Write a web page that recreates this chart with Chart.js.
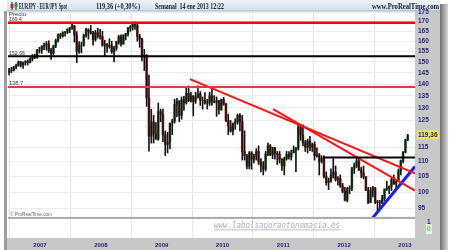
<!DOCTYPE html>
<html><head><meta charset="utf-8">
<script src="https://cdn.jsdelivr.net/npm/chart.js@4.4.1/dist/chart.umd.min.js"></script>
<style>html,body{margin:0;padding:0;background:#fff;overflow:hidden}canvas{display:block}</style>
</head><body>
<canvas id="c" width="450" height="250"></canvas>
<script>
// ---- data (EUR/JPY, two-week candles) ----
const firstBarDate = '2006-06-26';
const barStepDays = 14;
const firstOpen = 145.2;
const highs = [147.0,147.5,148.0,149.0,150.4,150.3,150.0,150.6,151.0,152.0,
153.5,153.7,156.0,157.0,157.8,159.0,159.8,160.2,156.5,158.0,
161.0,163.7,164.0,164.8,165.0,166.4,167.0,168.9,168.0,164.8,
159.8,159.5,163.5,166.5,166.3,168.0,165.0,165.5,166.5,166.0,
165.0,160.5,158.8,161.2,160.0,157.5,160.0,163.0,163.2,163.3,
164.0,167.0,168.0,169.0,169.96,169.0,163.5,161.5,156.0,153.5,
144.0,129.5,127.0,124.2,132.0,129.5,129.5,121.0,120.5,124.0,
125.5,133.5,133.9,133.0,134.5,134.8,138.3,139.2,136.5,135.0,
136.5,139.2,136.8,134.5,136.3,133.5,136.5,139.0,135.0,134.5,
133.0,133.6,134.4,132.0,127.5,125.0,124.0,125.7,127.5,127.7,
127.0,121.0,112.5,113.5,113.5,112.6,114.5,115.5,111.0,110.0,
113.5,116.5,116.0,115.0,115.0,113.5,113.5,111.0,111.5,113.5,
113.5,114.0,115.5,115.0,123.3,123.0,123.3,117.5,118.0,119.0,
116.5,117.0,114.8,112.8,112.0,112.0,106.5,104.5,107.5,111.6,
108.5,105.0,105.5,102.8,101.5,101.5,102.0,108.0,109.5,111.4,
111.0,108.0,108.5,105.0,101.5,101.5,101.8,101.5,97.5,97.5,
99.0,101.0,103.5,102.0,104.5,105.5,103.5,107.5,110.5,113.5,
118.0,119.7];
const lows = [144.0,145.0,145.8,146.8,148.0,147.6,147.0,148.5,148.6,149.5,
150.5,151.5,151.8,154.2,154.0,155.8,155.6,154.5,151.2,153.5,
156.8,159.5,161.3,162.0,162.5,163.8,164.3,166.0,159.5,149.6,
154.0,154.3,157.5,162.0,161.0,163.5,158.0,160.0,161.5,161.0,
157.5,152.8,154.5,156.5,154.0,150.0,155.5,158.5,157.5,158.5,
160.6,162.5,165.0,165.6,166.0,160.0,157.0,150.5,146.0,130.6,
113.6,116.5,116.5,117.8,117.5,124.5,117.0,112.1,113.0,114.5,
119.6,124.0,126.5,124.5,125.5,129.0,131.5,132.5,132.3,126.8,
131.8,134.0,131.0,129.5,131.5,129.5,131.0,131.0,132.0,126.6,
127.5,129.0,131.0,124.5,119.6,120.5,119.5,121.6,123.5,121.0,
110.5,110.5,107.5,107.5,107.4,109.5,110.5,109.0,106.5,105.5,
106.8,112.0,112.0,111.0,110.8,109.0,109.5,107.0,105.5,110.5,
110.8,110.5,113.0,106.6,114.0,117.5,115.5,113.5,113.0,113.8,
113.5,110.5,111.5,105.5,109.5,104.5,102.2,100.8,103.2,104.5,
103.5,102.2,101.5,99.8,97.3,97.0,99.5,100.5,106.0,108.0,
107.0,104.6,104.3,100.5,96.5,96.8,98.5,96.5,94.1,94.8,
96.5,97.3,100.5,99.5,100.5,102.5,100.6,103.5,105.5,109.5,
113.0,117.4];
const closes = [146.0,146.3,147.6,148.2,150.0,148.5,149.6,150.2,149.7,151.4,
152.6,152.0,155.6,155.5,157.4,158.1,158.6,155.3,154.0,157.6,
160.4,163.3,162.5,164.3,164.4,165.8,166.8,167.8,163.0,155.0,
158.0,158.0,162.9,165.8,164.8,164.0,160.8,164.3,162.8,162.3,
158.0,158.5,157.5,157.8,154.8,156.5,159.6,162.3,158.5,162.8,
163.8,166.6,167.2,168.8,168.0,162.4,161.0,152.3,153.0,134.0,
119.0,124.5,119.8,118.0,128.5,127.5,119.5,116.0,116.8,124.0,
124.7,131.5,132.8,127.0,133.3,132.0,136.0,133.0,135.0,132.6,
134.5,135.8,133.0,133.0,132.0,132.0,135.0,132.5,132.3,133.0,
129.3,133.5,131.5,125.0,122.8,121.0,124.0,124.5,127.0,124.5,
113.5,112.0,108.5,113.0,110.8,111.8,113.5,109.8,108.5,107.5,
112.5,115.5,112.3,114.8,112.8,112.5,110.8,108.5,111.0,112.5,
111.6,113.0,114.0,114.6,122.5,119.5,116.5,115.0,117.3,115.0,
116.0,112.0,112.3,110.0,111.0,105.0,103.0,103.5,105.5,106.5,
104.0,104.3,102.0,100.2,97.5,101.0,101.3,107.5,108.5,110.2,
107.0,106.2,105.0,100.5,96.8,100.5,101.3,97.0,96.8,96.8,
98.0,101.0,101.3,101.8,104.0,102.5,103.5,106.8,110.3,113.3,
117.6,119.36];
const lastPrice = 119.36;
const priceTicks = [95,100,105,110,115,125,130,135,140,145,150,155,160,165,170,175];
const yearTicks = [2007,2008,2009,2010,2011,2012,2013];
const volumeTicks = [0,1];
// support / resistance levels and trend lines: [decimal year, price]
const levelTop = 169.4;
const levelMid = 152.66;
const levelLow = 138.7;
const levelRecent = [[2011.65,111.4],[2013.164,111.4]];
const trendRedA = [[2009.466,142.2],[2013.164,106.0]];
const trendRedB = [[2010.83,129.5],[2013.164,100.5]];
const trendBlue = [[2012.458,92.1],[2013.164,108.3]];
const xMin = 2006.474, xMax = 2013.164;

// ---- build ----
function decYear(ms){const d=new Date(ms);const y=d.getUTCFullYear();const s=Date.UTC(y,0,1),e=Date.UTC(y+1,0,1);return y+(ms-s)/(e-s);}
const t0 = Date.parse(firstBarDate+'T00:00:00Z');
const xs = closes.map((_,i)=>decYear(t0 + (i*barStepDays+3.5)*86400000));
const opens = closes.map((c,i)=> i===0 ? firstOpen : closes[i-1]);
const pts = a => a.map(p=>({x:p[0],y:p[1]}));
const hline = v => [{x:xMin,y:v},{x:xMax,y:v}];
const navy = '#27277a';
const tickFont = {family:'Liberation Sans', size:6.5, weight:'bold'};

const framePlugin = {
  id:'frame',
  beforeDraw(chart){
    const c=chart.ctx, a=chart.chartArea;
    c.save();
    c.fillStyle='#ffffff'; c.fillRect(0,0,450,250);
    const g=c.createLinearGradient(440,0,448,0);
    g.addColorStop(0,'#6f6f6f'); g.addColorStop(1,'#d8d8d8');
    c.fillStyle=g; c.fillRect(440,4,8,246);
    c.fillStyle='#c8c8c8';
    c.fillRect(a.right,11,440-a.right,239);
    c.fillRect(a.left-2,a.bottom,440-(a.left-2),250-a.bottom);
    c.fillStyle='#9c9c9c'; c.fillRect(4,11,3,239);
    const h=c.createLinearGradient(0,0,0,11);
    h.addColorStop(0,'#eef4f9'); h.addColorStop(1,'#cfdfeb');
    c.fillStyle=h; c.fillRect(7,0,433,11);
    c.fillStyle='#9fb3c3'; c.fillRect(7,10.5,433,1);
    c.restore();
  },
  afterDraw(chart){
    const c=chart.ctx, a=chart.chartArea, ys=chart.scales.y;
    c.save();
    c.fillStyle='#a9a9a9'; c.fillRect(a.left,ys.bottom-1,a.right-a.left,2);
    c.fillStyle='#222'; c.fillRect(11.5,2,1,8); c.fillRect(15.5,2,1,8);
    c.fillStyle='#d62020'; c.fillRect(10.5,4,3,4);
    c.fillStyle='#2a9a2a'; c.fillRect(14.5,3,3,4);
    c.fillStyle='#1b1b30'; c.textBaseline='alphabetic'; c.textAlign='left';
    c.font='bold 9px "Liberation Serif"';
    c.fillText('EURJPY - EUR/JPY Spot',19,9,48);
    c.fillText('119,36 (+0,30%)',96,9,44);
    c.fillText('Semanal  14 ene 2013 12:22',155,9,69);
    c.font='bold 8px "Liberation Serif"';
    c.fillText('www.ProRealTime.com',372,9,67);
    c.fillStyle='#333'; c.font='6px "Liberation Sans"';
    c.fillText('Precio',9,16,17);
    c.fillText('169,4',9,20.5,13);
    c.fillText('152,66',9,54.5,16);
    c.fillText('138,7',9,85,14);
    c.fillStyle='#666'; c.font='6px "Liberation Sans"';
    c.fillText('\u00a9 ProRealTime.com',10,216,42);
    c.fillStyle='#a8aec2'; c.font='italic 8px "DejaVu Sans Mono"';
    c.fillText('www.labolsaporantonomasia.es',214,228,126);
    c.fillRect(214,229.5,126,0.8);
    c.restore();
  }
};

new Chart(document.getElementById('c'), {
  type:'bar',
  data:{datasets:[
    {type:'line', data:hline(levelTop), borderColor:'#ff0000', borderWidth:2.5, pointRadius:0, order:1},
    {type:'line', data:hline(levelMid), borderColor:'#000000', borderWidth:2, pointRadius:0, order:1},
    {type:'line', data:hline(levelLow), borderColor:'#e8383c', borderWidth:2, pointRadius:0, order:1},
    {type:'line', data:pts(levelRecent), borderColor:'#000000', borderWidth:2, pointRadius:0, order:1},
    {type:'line', data:pts(trendRedA), borderColor:'#ff1010', borderWidth:2, pointRadius:0, order:1},
    {type:'line', data:pts(trendRedB), borderColor:'#ff1010', borderWidth:2, pointRadius:0, order:1},
    {type:'line', data:pts(trendBlue), borderColor:'#1a1aff', borderWidth:3, pointRadius:0, order:1},
    {label:'wick', data:xs.map((x,i)=>({x, y:[lows[i],highs[i]]})), backgroundColor:'#151515', barThickness:1, grouped:false, order:2},
    {label:'body', data:xs.map((x,i)=>({x, y:[opens[i],closes[i]]})),
     backgroundColor:closes.map((cl,i)=> cl>=opens[i] ? '#2f872f' : '#c42a2a'), barThickness:2, grouped:false, order:3}
  ]},
  options:{
    responsive:false, animation:false, devicePixelRatio:1,
    layout:{padding:{left:8,right:10,top:12,bottom:0}},
    plugins:{legend:{display:false}, tooltip:{enabled:false}},
    scales:{
      x:{type:'linear', min:xMin, max:xMax, offset:false, position:'bottom',
         grid:{color:'#e4e4e4', drawTicks:false}, border:{display:false},
         ticks:{color:navy, font:{family:'Liberation Sans', size:6, weight:'bold'}, padding:4, maxRotation:0, autoSkip:false, callback:v=>String(v)},
         afterBuildTicks:s=>{s.ticks=yearTicks.map(v=>({value:v}));},
         afterFit:s=>{s.height=12;}},
      y:{type:'logarithmic', position:'right', stack:'panes', stackWeight:205, min:92.3, max:175.2,
         grid:{color:ctx=> ctx.tick && ctx.tick.value===lastPrice ? 'rgba(0,0,0,0)' : '#ebebeb', drawTicks:false}, border:{display:false},
         ticks:{color:navy, font:tickFont, padding:3, autoSkip:false,
           showLabelBackdrop:ctx=> !!(ctx.tick && ctx.tick.value===lastPrice),
           backdropColor:'#f3e84a', backdropPadding:{top:1,bottom:0,left:1,right:1},
           callback:v=> v===lastPrice ? lastPrice.toFixed(2).replace('.',',') : String(v)},
         afterBuildTicks:s=>{s.ticks=priceTicks.concat([lastPrice]).map(v=>({value:v}));},
         afterFit:s=>{s.width=25;}},
      y2:{type:'linear', position:'right', stack:'panes', stackWeight:20, min:-1.3, max:1.6,
         grid:{display:false}, border:{display:false},
         ticks:{color:ctx=> ctx.tick && ctx.tick.value===0 ? '#55bb55' : navy, font:tickFont, padding:4, autoSkip:false,
           showLabelBackdrop:ctx=> !!(ctx.tick && ctx.tick.value===0),
           backdropColor:'#e8ffe0', backdropPadding:1,
           callback:v=>String(v)},
         afterBuildTicks:s=>{s.ticks=volumeTicks.map(v=>({value:v}));},
         afterFit:s=>{s.width=25;}}
    }
  },
  plugins:[framePlugin]
});
</script>
</body></html>
